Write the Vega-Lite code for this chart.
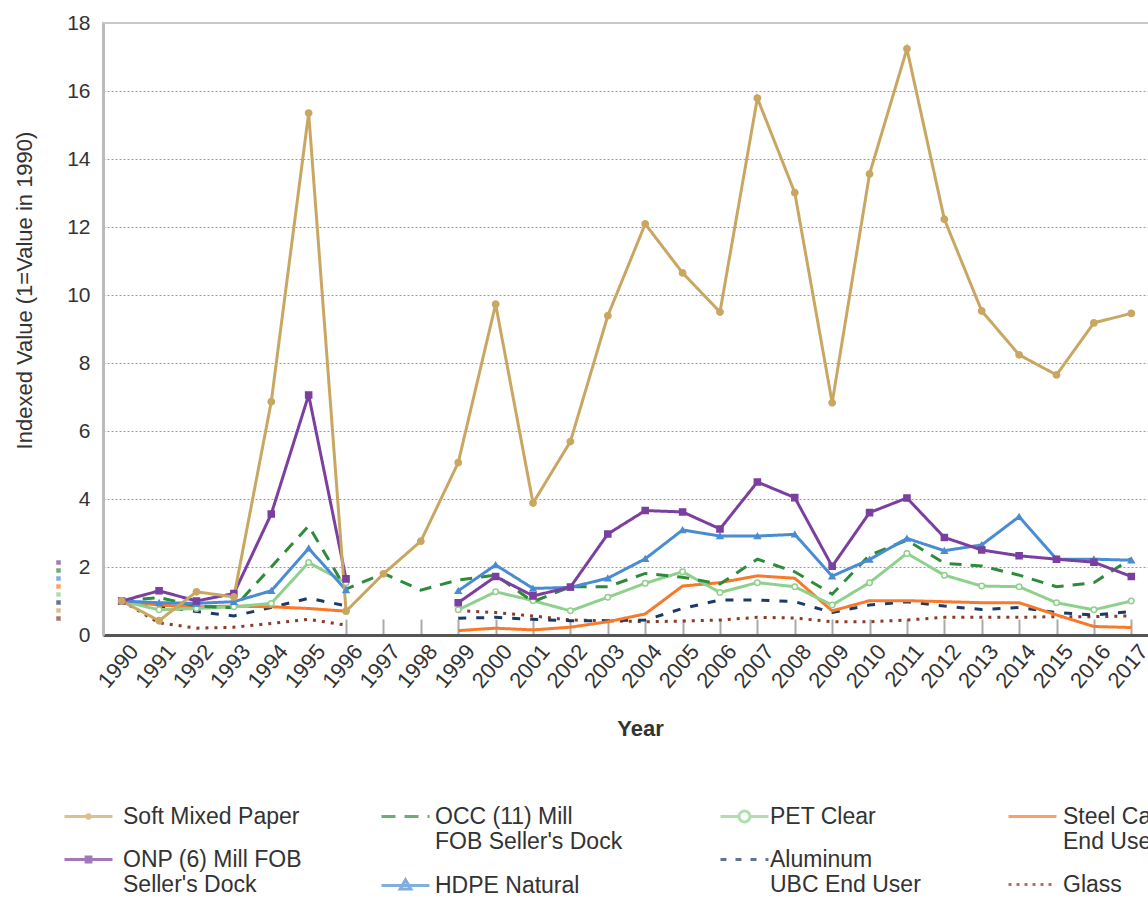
{
  "$schema": "https://vega.github.io/schema/vega-lite/v6.json",
  "width": 1047,
  "height": 612,
  "autosize": {"type": "none"},
  "padding": {"left": 103, "top": 23, "right": 0, "bottom": 265},
  "background": "white",
  "config": {
    "view": {"stroke": "#c8c8c8", "strokeWidth": 2},
    "font": "Liberation Sans"
  },
  "datasets": {
    "prices": [
      {"series": "Glass", "year": 1990, "value": 1}, {"series": "Glass", "year": 1991, "value": 0.36}, {"series": "Glass", "year": 1992, "value": 0.2}, {"series": "Glass", "year": 1993, "value": 0.23}, {"series": "Glass", "year": 1994, "value": 0.34}, {"series": "Glass", "year": 1995, "value": 0.46}, {"series": "Glass", "year": 1996, "value": 0.29}, {"series": "Glass", "year": 1997, "value": null}, {"series": "Glass", "year": 1998, "value": null}, {"series": "Glass", "year": 1999, "value": 0.72}, {"series": "Glass", "year": 2000, "value": 0.66}, {"series": "Glass", "year": 2001, "value": 0.56}, {"series": "Glass", "year": 2002, "value": 0.44}, {"series": "Glass", "year": 2003, "value": 0.42}, {"series": "Glass", "year": 2004, "value": 0.39}, {"series": "Glass", "year": 2005, "value": 0.41}, {"series": "Glass", "year": 2006, "value": 0.44}, {"series": "Glass", "year": 2007, "value": 0.52}, {"series": "Glass", "year": 2008, "value": 0.5}, {"series": "Glass", "year": 2009, "value": 0.39}, {"series": "Glass", "year": 2010, "value": 0.39}, {"series": "Glass", "year": 2011, "value": 0.44}, {"series": "Glass", "year": 2012, "value": 0.52}, {"series": "Glass", "year": 2013, "value": 0.52}, {"series": "Glass", "year": 2014, "value": 0.52}, {"series": "Glass", "year": 2015, "value": 0.54}, {"series": "Glass", "year": 2016, "value": 0.54}, {"series": "Glass", "year": 2017, "value": 0.56},
      {"series": "Aluminum UBC End User", "year": 1990, "value": 1}, {"series": "Aluminum UBC End User", "year": 1991, "value": 0.85}, {"series": "Aluminum UBC End User", "year": 1992, "value": 0.69}, {"series": "Aluminum UBC End User", "year": 1993, "value": 0.56}, {"series": "Aluminum UBC End User", "year": 1994, "value": 0.81}, {"series": "Aluminum UBC End User", "year": 1995, "value": 1.08}, {"series": "Aluminum UBC End User", "year": 1996, "value": 0.86}, {"series": "Aluminum UBC End User", "year": 1997, "value": null}, {"series": "Aluminum UBC End User", "year": 1998, "value": null}, {"series": "Aluminum UBC End User", "year": 1999, "value": 0.49}, {"series": "Aluminum UBC End User", "year": 2000, "value": 0.52}, {"series": "Aluminum UBC End User", "year": 2001, "value": 0.46}, {"series": "Aluminum UBC End User", "year": 2002, "value": 0.42}, {"series": "Aluminum UBC End User", "year": 2003, "value": 0.42}, {"series": "Aluminum UBC End User", "year": 2004, "value": 0.44}, {"series": "Aluminum UBC End User", "year": 2005, "value": 0.78}, {"series": "Aluminum UBC End User", "year": 2006, "value": 1.03}, {"series": "Aluminum UBC End User", "year": 2007, "value": 1.03}, {"series": "Aluminum UBC End User", "year": 2008, "value": 0.98}, {"series": "Aluminum UBC End User", "year": 2009, "value": 0.66}, {"series": "Aluminum UBC End User", "year": 2010, "value": 0.88}, {"series": "Aluminum UBC End User", "year": 2011, "value": 0.98}, {"series": "Aluminum UBC End User", "year": 2012, "value": 0.85}, {"series": "Aluminum UBC End User", "year": 2013, "value": 0.75}, {"series": "Aluminum UBC End User", "year": 2014, "value": 0.81}, {"series": "Aluminum UBC End User", "year": 2015, "value": 0.66}, {"series": "Aluminum UBC End User", "year": 2016, "value": 0.59}, {"series": "Aluminum UBC End User", "year": 2017, "value": 0.69},
      {"series": "Steel Can End User", "year": 1990, "value": 1}, {"series": "Steel Can End User", "year": 1991, "value": 0.88}, {"series": "Steel Can End User", "year": 1992, "value": 0.83}, {"series": "Steel Can End User", "year": 1993, "value": 0.85}, {"series": "Steel Can End User", "year": 1994, "value": 0.83}, {"series": "Steel Can End User", "year": 1995, "value": 0.78}, {"series": "Steel Can End User", "year": 1996, "value": 0.7}, {"series": "Steel Can End User", "year": 1997, "value": null}, {"series": "Steel Can End User", "year": 1998, "value": null}, {"series": "Steel Can End User", "year": 1999, "value": 0.13}, {"series": "Steel Can End User", "year": 2000, "value": 0.2}, {"series": "Steel Can End User", "year": 2001, "value": 0.15}, {"series": "Steel Can End User", "year": 2002, "value": 0.23}, {"series": "Steel Can End User", "year": 2003, "value": 0.39}, {"series": "Steel Can End User", "year": 2004, "value": 0.62}, {"series": "Steel Can End User", "year": 2005, "value": 1.44}, {"series": "Steel Can End User", "year": 2006, "value": 1.54}, {"series": "Steel Can End User", "year": 2007, "value": 1.74}, {"series": "Steel Can End User", "year": 2008, "value": 1.67}, {"series": "Steel Can End User", "year": 2009, "value": 0.71}, {"series": "Steel Can End User", "year": 2010, "value": 1.01}, {"series": "Steel Can End User", "year": 2011, "value": 1.01}, {"series": "Steel Can End User", "year": 2012, "value": 0.98}, {"series": "Steel Can End User", "year": 2013, "value": 0.95}, {"series": "Steel Can End User", "year": 2014, "value": 0.95}, {"series": "Steel Can End User", "year": 2015, "value": 0.59}, {"series": "Steel Can End User", "year": 2016, "value": 0.25}, {"series": "Steel Can End User", "year": 2017, "value": 0.22},
      {"series": "PET Clear", "year": 1990, "value": 1}, {"series": "PET Clear", "year": 1991, "value": 0.74}, {"series": "PET Clear", "year": 1992, "value": 0.78}, {"series": "PET Clear", "year": 1993, "value": 0.83}, {"series": "PET Clear", "year": 1994, "value": 0.93}, {"series": "PET Clear", "year": 1995, "value": 2.13}, {"series": "PET Clear", "year": 1996, "value": 1.54}, {"series": "PET Clear", "year": 1997, "value": null}, {"series": "PET Clear", "year": 1998, "value": null}, {"series": "PET Clear", "year": 1999, "value": 0.74}, {"series": "PET Clear", "year": 2000, "value": 1.27}, {"series": "PET Clear", "year": 2001, "value": 1.01}, {"series": "PET Clear", "year": 2002, "value": 0.71}, {"series": "PET Clear", "year": 2003, "value": 1.11}, {"series": "PET Clear", "year": 2004, "value": 1.52}, {"series": "PET Clear", "year": 2005, "value": 1.86}, {"series": "PET Clear", "year": 2006, "value": 1.25}, {"series": "PET Clear", "year": 2007, "value": 1.54}, {"series": "PET Clear", "year": 2008, "value": 1.42}, {"series": "PET Clear", "year": 2009, "value": 0.88}, {"series": "PET Clear", "year": 2010, "value": 1.54}, {"series": "PET Clear", "year": 2011, "value": 2.4}, {"series": "PET Clear", "year": 2012, "value": 1.76}, {"series": "PET Clear", "year": 2013, "value": 1.44}, {"series": "PET Clear", "year": 2014, "value": 1.42}, {"series": "PET Clear", "year": 2015, "value": 0.95}, {"series": "PET Clear", "year": 2016, "value": 0.74}, {"series": "PET Clear", "year": 2017, "value": 1.0},
      {"series": "OCC (11) Mill FOB Seller's Dock", "year": 1990, "value": 1}, {"series": "OCC (11) Mill FOB Seller's Dock", "year": 1991, "value": 1.1}, {"series": "OCC (11) Mill FOB Seller's Dock", "year": 1992, "value": 0.85}, {"series": "OCC (11) Mill FOB Seller's Dock", "year": 1993, "value": 0.8}, {"series": "OCC (11) Mill FOB Seller's Dock", "year": 1994, "value": 2.0}, {"series": "OCC (11) Mill FOB Seller's Dock", "year": 1995, "value": 3.21}, {"series": "OCC (11) Mill FOB Seller's Dock", "year": 1996, "value": 1.35}, {"series": "OCC (11) Mill FOB Seller's Dock", "year": 1997, "value": 1.81}, {"series": "OCC (11) Mill FOB Seller's Dock", "year": 1998, "value": 1.32}, {"series": "OCC (11) Mill FOB Seller's Dock", "year": 1999, "value": 1.62}, {"series": "OCC (11) Mill FOB Seller's Dock", "year": 2000, "value": 1.76}, {"series": "OCC (11) Mill FOB Seller's Dock", "year": 2001, "value": 0.98}, {"series": "OCC (11) Mill FOB Seller's Dock", "year": 2002, "value": 1.42}, {"series": "OCC (11) Mill FOB Seller's Dock", "year": 2003, "value": 1.42}, {"series": "OCC (11) Mill FOB Seller's Dock", "year": 2004, "value": 1.81}, {"series": "OCC (11) Mill FOB Seller's Dock", "year": 2005, "value": 1.7}, {"series": "OCC (11) Mill FOB Seller's Dock", "year": 2006, "value": 1.5}, {"series": "OCC (11) Mill FOB Seller's Dock", "year": 2007, "value": 2.23}, {"series": "OCC (11) Mill FOB Seller's Dock", "year": 2008, "value": 1.86}, {"series": "OCC (11) Mill FOB Seller's Dock", "year": 2009, "value": 1.2}, {"series": "OCC (11) Mill FOB Seller's Dock", "year": 2010, "value": 2.35}, {"series": "OCC (11) Mill FOB Seller's Dock", "year": 2011, "value": 2.79}, {"series": "OCC (11) Mill FOB Seller's Dock", "year": 2012, "value": 2.11}, {"series": "OCC (11) Mill FOB Seller's Dock", "year": 2013, "value": 2.03}, {"series": "OCC (11) Mill FOB Seller's Dock", "year": 2014, "value": 1.76}, {"series": "OCC (11) Mill FOB Seller's Dock", "year": 2015, "value": 1.42}, {"series": "OCC (11) Mill FOB Seller's Dock", "year": 2016, "value": 1.54}, {"series": "OCC (11) Mill FOB Seller's Dock", "year": 2017, "value": 2.25},
      {"series": "HDPE Natural", "year": 1990, "value": 1}, {"series": "HDPE Natural", "year": 1991, "value": 0.95}, {"series": "HDPE Natural", "year": 1992, "value": 0.93}, {"series": "HDPE Natural", "year": 1993, "value": 0.98}, {"series": "HDPE Natural", "year": 1994, "value": 1.3}, {"series": "HDPE Natural", "year": 1995, "value": 2.55}, {"series": "HDPE Natural", "year": 1996, "value": 1.32}, {"series": "HDPE Natural", "year": 1997, "value": null}, {"series": "HDPE Natural", "year": 1998, "value": null}, {"series": "HDPE Natural", "year": 1999, "value": 1.3}, {"series": "HDPE Natural", "year": 2000, "value": 2.06}, {"series": "HDPE Natural", "year": 2001, "value": 1.37}, {"series": "HDPE Natural", "year": 2002, "value": 1.4}, {"series": "HDPE Natural", "year": 2003, "value": 1.67}, {"series": "HDPE Natural", "year": 2004, "value": 2.24}, {"series": "HDPE Natural", "year": 2005, "value": 3.09}, {"series": "HDPE Natural", "year": 2006, "value": 2.91}, {"series": "HDPE Natural", "year": 2007, "value": 2.91}, {"series": "HDPE Natural", "year": 2008, "value": 2.96}, {"series": "HDPE Natural", "year": 2009, "value": 1.73}, {"series": "HDPE Natural", "year": 2010, "value": 2.22}, {"series": "HDPE Natural", "year": 2011, "value": 2.84}, {"series": "HDPE Natural", "year": 2012, "value": 2.48}, {"series": "HDPE Natural", "year": 2013, "value": 2.65}, {"series": "HDPE Natural", "year": 2014, "value": 3.48}, {"series": "HDPE Natural", "year": 2015, "value": 2.23}, {"series": "HDPE Natural", "year": 2016, "value": 2.23}, {"series": "HDPE Natural", "year": 2017, "value": 2.2},
      {"series": "ONP (6) Mill FOB Seller's Dock", "year": 1990, "value": 1}, {"series": "ONP (6) Mill FOB Seller's Dock", "year": 1991, "value": 1.3}, {"series": "ONP (6) Mill FOB Seller's Dock", "year": 1992, "value": 1.0}, {"series": "ONP (6) Mill FOB Seller's Dock", "year": 1993, "value": 1.22}, {"series": "ONP (6) Mill FOB Seller's Dock", "year": 1994, "value": 3.56}, {"series": "ONP (6) Mill FOB Seller's Dock", "year": 1995, "value": 7.06}, {"series": "ONP (6) Mill FOB Seller's Dock", "year": 1996, "value": 1.65}, {"series": "ONP (6) Mill FOB Seller's Dock", "year": 1997, "value": null}, {"series": "ONP (6) Mill FOB Seller's Dock", "year": 1998, "value": null}, {"series": "ONP (6) Mill FOB Seller's Dock", "year": 1999, "value": 0.95}, {"series": "ONP (6) Mill FOB Seller's Dock", "year": 2000, "value": 1.72}, {"series": "ONP (6) Mill FOB Seller's Dock", "year": 2001, "value": 1.15}, {"series": "ONP (6) Mill FOB Seller's Dock", "year": 2002, "value": 1.41}, {"series": "ONP (6) Mill FOB Seller's Dock", "year": 2003, "value": 2.97}, {"series": "ONP (6) Mill FOB Seller's Dock", "year": 2004, "value": 3.66}, {"series": "ONP (6) Mill FOB Seller's Dock", "year": 2005, "value": 3.62}, {"series": "ONP (6) Mill FOB Seller's Dock", "year": 2006, "value": 3.12}, {"series": "ONP (6) Mill FOB Seller's Dock", "year": 2007, "value": 4.5}, {"series": "ONP (6) Mill FOB Seller's Dock", "year": 2008, "value": 4.04}, {"series": "ONP (6) Mill FOB Seller's Dock", "year": 2009, "value": 2.02}, {"series": "ONP (6) Mill FOB Seller's Dock", "year": 2010, "value": 3.6}, {"series": "ONP (6) Mill FOB Seller's Dock", "year": 2011, "value": 4.03}, {"series": "ONP (6) Mill FOB Seller's Dock", "year": 2012, "value": 2.87}, {"series": "ONP (6) Mill FOB Seller's Dock", "year": 2013, "value": 2.5}, {"series": "ONP (6) Mill FOB Seller's Dock", "year": 2014, "value": 2.33}, {"series": "ONP (6) Mill FOB Seller's Dock", "year": 2015, "value": 2.23}, {"series": "ONP (6) Mill FOB Seller's Dock", "year": 2016, "value": 2.14}, {"series": "ONP (6) Mill FOB Seller's Dock", "year": 2017, "value": 1.72},
      {"series": "Soft Mixed Paper", "year": 1990, "value": 1}, {"series": "Soft Mixed Paper", "year": 1991, "value": 0.42}, {"series": "Soft Mixed Paper", "year": 1992, "value": 1.27}, {"series": "Soft Mixed Paper", "year": 1993, "value": 1.12}, {"series": "Soft Mixed Paper", "year": 1994, "value": 6.86}, {"series": "Soft Mixed Paper", "year": 1995, "value": 15.35}, {"series": "Soft Mixed Paper", "year": 1996, "value": 0.7}, {"series": "Soft Mixed Paper", "year": 1997, "value": 1.8}, {"series": "Soft Mixed Paper", "year": 1998, "value": 2.76}, {"series": "Soft Mixed Paper", "year": 1999, "value": 5.07}, {"series": "Soft Mixed Paper", "year": 2000, "value": 9.73}, {"series": "Soft Mixed Paper", "year": 2001, "value": 3.88}, {"series": "Soft Mixed Paper", "year": 2002, "value": 5.69}, {"series": "Soft Mixed Paper", "year": 2003, "value": 9.39}, {"series": "Soft Mixed Paper", "year": 2004, "value": 12.09}, {"series": "Soft Mixed Paper", "year": 2005, "value": 10.65}, {"series": "Soft Mixed Paper", "year": 2006, "value": 9.5}, {"series": "Soft Mixed Paper", "year": 2007, "value": 15.79}, {"series": "Soft Mixed Paper", "year": 2008, "value": 13.01}, {"series": "Soft Mixed Paper", "year": 2009, "value": 6.83}, {"series": "Soft Mixed Paper", "year": 2010, "value": 13.56}, {"series": "Soft Mixed Paper", "year": 2011, "value": 17.24}, {"series": "Soft Mixed Paper", "year": 2012, "value": 12.23}, {"series": "Soft Mixed Paper", "year": 2013, "value": 9.53}, {"series": "Soft Mixed Paper", "year": 2014, "value": 8.24}, {"series": "Soft Mixed Paper", "year": 2015, "value": 7.65}, {"series": "Soft Mixed Paper", "year": 2016, "value": 9.18}, {"series": "Soft Mixed Paper", "year": 2017, "value": 9.46}
    ]
  },
  "data": {"name": "prices"},
  "resolve": {"scale": {"stroke": "independent", "strokeDash": "independent", "shape": "independent", "fill": "independent", "size": "independent", "color": "independent"}},
  "layer": [
    {
      "mark": {"type": "line", "strokeWidth": 3, "invalid": "break-paths-filter-domains"},
      "encoding": {
        "x": {
          "field": "year", "type": "ordinal",
          "scale": {"type": "point", "padding": 0.5},
          "axis": {
            "title": "Year", "labelAngle": -50, "labelFontSize": 22, "labelColor": "#333",
            "labelPadding": 12, "labelOffset": 12, "ticks": false,
            "grid": true, "gridColor": "#aaa", "gridWidth": 2, "gridDash": [16, 596], "gridDashOffset": 16,
            "gridOpacity": {"condition": {"test": "datum.value < 1996", "value": 0}, "value": 1},
            "domainColor": "#555", "domainWidth": 3, "titleFontSize": 22, "titleFontWeight": "bold",
            "titleColor": "#333", "titlePadding": 27, "titleX": 537
          }
        },
        "y": {
          "field": "value", "type": "quantitative",
          "scale": {"domain": [0, 18], "nice": false},
          "axis": {
            "values": [0, 2, 4, 6, 8, 10, 12, 14, 16, 18],
            "title": "Indexed Value (1=Value in 1990)", "grid": true, "gridDash": [2, 2], "gridColor": "#999", "gridWidth": 1,
            "gridOpacity": {"condition": {"test": "datum.value == 0 || datum.value == 18", "value": 0}, "value": 1},
            "tickSize": 0, "labelPadding": 13, "labelFontSize": 21, "labelColor": "#333",
            "domainColor": "#bbb", "domainWidth": 3, "titleFontSize": 22, "titleColor": "#333",
            "titleFontWeight": "normal", "titlePadding": 30, "titleY": 267
          }
        },
        "stroke": {
          "field": "series", "type": "nominal", "legend": null,
          "scale": {
            "domain": ["Glass", "Aluminum UBC End User", "Steel Can End User", "PET Clear", "OCC (11) Mill FOB Seller's Dock", "HDPE Natural", "ONP (6) Mill FOB Seller's Dock", "Soft Mixed Paper"],
            "range": ["#8B3A28", "#1C3A66", "#F8792A", "#8FD18C", "#2E8B3C", "#4A8CD2", "#7B3F9F", "#C9A762"]
          }
        },
        "strokeDash": {
          "field": "series", "type": "nominal", "legend": null,
          "scale": {
            "domain": ["Glass", "Aluminum UBC End User", "Steel Can End User", "PET Clear", "OCC (11) Mill FOB Seller's Dock", "HDPE Natural", "ONP (6) Mill FOB Seller's Dock", "Soft Mixed Paper"],
            "range": [[3, 6], [8, 10], [1, 0], [1, 0], [12, 9], [1, 0], [1, 0], [1, 0]]
          }
        }
      }
    },
    {
      "transform": [{"filter": {"field": "series", "oneOf": ["PET Clear", "HDPE Natural", "ONP (6) Mill FOB Seller's Dock", "Soft Mixed Paper"]}}],
      "mark": {"type": "point", "filled": true, "opacity": 1, "strokeWidth": 1.5},
      "encoding": {
        "x": {"field": "year", "type": "ordinal"},
        "y": {"field": "value", "type": "quantitative"},
        "shape": {"field": "series", "type": "nominal", "legend": null,
          "scale": {"domain": ["PET Clear", "HDPE Natural", "ONP (6) Mill FOB Seller's Dock", "Soft Mixed Paper"], "range": ["circle", "triangle-up", "square", "circle"]}},
        "fill": {"field": "series", "type": "nominal", "legend": null,
          "scale": {"domain": ["PET Clear", "HDPE Natural", "ONP (6) Mill FOB Seller's Dock", "Soft Mixed Paper"], "range": ["#ffffff", "#4A8CD2", "#7B3F9F", "#C9A762"]}},
        "stroke": {"field": "series", "type": "nominal", "legend": null,
          "scale": {"domain": ["PET Clear", "HDPE Natural", "ONP (6) Mill FOB Seller's Dock", "Soft Mixed Paper"], "range": ["#8FD18C", "#4A8CD2", "#7B3F9F", "#C9A762"]}},
        "size": {"field": "series", "type": "nominal", "legend": null,
          "scale": {"domain": ["PET Clear", "HDPE Natural", "ONP (6) Mill FOB Seller's Dock", "Soft Mixed Paper"], "range": [30, 40, 30, 20]}}
      }
    },
    {
      "transform": [{"filter": "datum.value < -100"}],
      "mark": {"type": "point", "filled": false},
      "encoding": {
        "stroke": {"field": "series", "type": "nominal",
          "scale": {"domain": ["Soft Mixed Paper", "ONP (6) Mill FOB Seller's Dock"], "range": ["#C9A762", "#7B3F9F"]},
          "legend": {"title": null, "orient": "none", "legendX": -8, "legendY": 782, "direction": "vertical", "padding": 0, "symbolSize": 144, "symbolStrokeWidth": 3, "labelFontSize": 23, "labelColor": "#333", "labelOffset": 5, "rowPadding": 19, "labelLimit": 500, "labelBaseline": "middle",
            "labelExpr": "datum.label == \"ONP (6) Mill FOB Seller's Dock\" ? [\"ONP (6) Mill FOB\", \"Seller's Dock\"] : datum.label",
            "encode": {"labels": {"update": {"lineHeight": {"value": 27.5}}}}}},
        "shape": {"field": "series", "type": "nominal",
          "scale": {"domain": ["Soft Mixed Paper", "ONP (6) Mill FOB Seller's Dock"], "range": ["M-7,0L1,0M-2.7,0A0.3,0.3,0,1,1,-3.3,0A0.3,0.3,0,1,1,-2.7,0Z", "M-7,0L1,0M-3.4,-0.4L-2.6,-0.4L-2.6,0.4L-3.4,0.4Z"]},
          "legend": {"title": null, "orient": "none", "legendX": -8, "legendY": 782, "direction": "vertical", "padding": 0, "symbolSize": 144, "symbolStrokeWidth": 3, "labelFontSize": 23, "labelColor": "#333", "labelOffset": 5, "rowPadding": 19, "labelLimit": 500, "labelBaseline": "middle",
            "labelExpr": "datum.label == \"ONP (6) Mill FOB Seller's Dock\" ? [\"ONP (6) Mill FOB\", \"Seller's Dock\"] : datum.label",
            "encode": {"labels": {"update": {"lineHeight": {"value": 27.5}}}}}}
      }
    },
    {
      "transform": [{"filter": "datum.value < -100"}],
      "mark": {"type": "point", "filled": false},
      "encoding": {
        "stroke": {"field": "series", "type": "nominal",
          "scale": {"domain": ["OCC (11) Mill FOB Seller's Dock", "HDPE Natural"], "range": ["#2E8B3C", "#4A8CD2"]},
          "legend": {"title": null, "orient": "none", "legendX": 309, "legendY": 782, "direction": "vertical", "padding": 0, "symbolSize": 144, "symbolStrokeWidth": 3, "labelFontSize": 23, "labelColor": "#333", "labelOffset": 0, "rowPadding": 19, "labelLimit": 500, "labelBaseline": "middle",
            "labelExpr": "datum.label == \"OCC (11) Mill FOB Seller's Dock\" ? [\"OCC (11) Mill\", \"FOB Seller's Dock\"] : datum.label",
            "encode": {"labels": {"update": {"lineHeight": {"value": 27.5}}}}}},
        "shape": {"field": "series", "type": "nominal",
          "scale": {"domain": ["OCC (11) Mill FOB Seller's Dock", "HDPE Natural"], "range": ["M-7,0L1,0", "M-7,0L1,0M-3,-0.95L-2.1,0.6L-3.9,0.6Z"]},
          "legend": {"title": null, "orient": "none", "legendX": 309, "legendY": 782, "direction": "vertical", "padding": 0, "symbolSize": 144, "symbolStrokeWidth": 3, "labelFontSize": 23, "labelColor": "#333", "labelOffset": 0, "rowPadding": 19, "labelLimit": 500, "labelBaseline": "middle",
            "labelExpr": "datum.label == \"OCC (11) Mill FOB Seller's Dock\" ? [\"OCC (11) Mill\", \"FOB Seller's Dock\"] : datum.label",
            "encode": {"labels": {"update": {"lineHeight": {"value": 27.5}}}}}},
        "strokeDash": {"field": "series", "type": "nominal",
          "scale": {"domain": ["OCC (11) Mill FOB Seller's Dock", "HDPE Natural"], "range": [[14, 9], [1, 0]]},
          "legend": {"title": null, "orient": "none", "legendX": 309, "legendY": 782, "direction": "vertical", "padding": 0, "symbolSize": 144, "symbolStrokeWidth": 3, "labelFontSize": 23, "labelColor": "#333", "labelOffset": 0, "rowPadding": 19, "labelLimit": 500, "labelBaseline": "middle",
            "labelExpr": "datum.label == \"OCC (11) Mill FOB Seller's Dock\" ? [\"OCC (11) Mill\", \"FOB Seller's Dock\"] : datum.label",
            "encode": {"labels": {"update": {"lineHeight": {"value": 27.5}}}}}}
      }
    },
    {
      "transform": [{"filter": "datum.value < -100"}],
      "mark": {"type": "point", "filled": false},
      "encoding": {
        "stroke": {"field": "series", "type": "nominal",
          "scale": {"domain": ["PET Clear", "Aluminum UBC End User"], "range": ["#8FD18C", "#1C3A66"]},
          "legend": {"title": null, "orient": "none", "legendX": 648, "legendY": 782, "direction": "vertical", "padding": 0, "symbolSize": 144, "symbolStrokeWidth": 3, "labelFontSize": 23, "labelColor": "#333", "labelOffset": -4, "rowPadding": 19, "labelLimit": 500, "labelBaseline": "middle",
            "labelExpr": "datum.label == \"Aluminum UBC End User\" ? [\"Aluminum\", \"UBC End User\"] : datum.label",
            "encode": {"labels": {"update": {"lineHeight": {"value": 27.5}}}}}},
        "shape": {"field": "series", "type": "nominal",
          "scale": {"domain": ["PET Clear", "Aluminum UBC End User"], "range": ["M-7,0L-3.9,0M-2.1,0L1,0M-2.1,0A0.9,0.9,0,1,1,-3.9,0A0.9,0.9,0,1,1,-2.1,0Z", "M-7,0L1,0"]},
          "legend": {"title": null, "orient": "none", "legendX": 648, "legendY": 782, "direction": "vertical", "padding": 0, "symbolSize": 144, "symbolStrokeWidth": 3, "labelFontSize": 23, "labelColor": "#333", "labelOffset": -4, "rowPadding": 19, "labelLimit": 500, "labelBaseline": "middle",
            "labelExpr": "datum.label == \"Aluminum UBC End User\" ? [\"Aluminum\", \"UBC End User\"] : datum.label",
            "encode": {"labels": {"update": {"lineHeight": {"value": 27.5}}}}}},
        "strokeDash": {"field": "series", "type": "nominal",
          "scale": {"domain": ["PET Clear", "Aluminum UBC End User"], "range": [[1, 0], [6, 9]]},
          "legend": {"title": null, "orient": "none", "legendX": 648, "legendY": 782, "direction": "vertical", "padding": 0, "symbolSize": 144, "symbolStrokeWidth": 3, "labelFontSize": 23, "labelColor": "#333", "labelOffset": -4, "rowPadding": 19, "labelLimit": 500, "labelBaseline": "middle",
            "labelExpr": "datum.label == \"Aluminum UBC End User\" ? [\"Aluminum\", \"UBC End User\"] : datum.label",
            "encode": {"labels": {"update": {"lineHeight": {"value": 27.5}}}}}}
      }
    },
    {
      "transform": [{"filter": "datum.value < -100"}],
      "mark": {"type": "point", "filled": false},
      "encoding": {
        "stroke": {"field": "series", "type": "nominal",
          "scale": {"domain": ["Steel Can End User", "Glass"], "range": ["#F8792A", "#8B3A28"]},
          "legend": {"title": null, "orient": "none", "legendX": 936, "legendY": 782, "direction": "vertical", "padding": 0, "symbolSize": 144, "symbolStrokeWidth": 3, "labelFontSize": 23, "labelColor": "#333", "labelOffset": 1, "rowPadding": 19, "labelLimit": 500, "labelBaseline": "middle",
            "labelExpr": "datum.label == \"Steel Can End User\" ? [\"Steel Can\", \"End User\"] : datum.label",
            "encode": {"labels": {"update": {"lineHeight": {"value": 27.5}}}}}},
        "shape": {"field": "series", "type": "nominal",
          "scale": {"domain": ["Steel Can End User", "Glass"], "range": ["M-7,0L1,0", "M-7,0L1,0"]},
          "legend": {"title": null, "orient": "none", "legendX": 936, "legendY": 782, "direction": "vertical", "padding": 0, "symbolSize": 144, "symbolStrokeWidth": 3, "labelFontSize": 23, "labelColor": "#333", "labelOffset": 1, "rowPadding": 19, "labelLimit": 500, "labelBaseline": "middle",
            "labelExpr": "datum.label == \"Steel Can End User\" ? [\"Steel Can\", \"End User\"] : datum.label",
            "encode": {"labels": {"update": {"lineHeight": {"value": 27.5}}}}}},
        "strokeDash": {"field": "series", "type": "nominal",
          "scale": {"domain": ["Steel Can End User", "Glass"], "range": [[1, 0], [3, 5]]},
          "legend": {"title": null, "orient": "none", "legendX": 936, "legendY": 782, "direction": "vertical", "padding": 0, "symbolSize": 144, "symbolStrokeWidth": 3, "labelFontSize": 23, "labelColor": "#333", "labelOffset": 1, "rowPadding": 19, "labelLimit": 500, "labelBaseline": "middle",
            "labelExpr": "datum.label == \"Steel Can End User\" ? [\"Steel Can\", \"End User\"] : datum.label",
            "encode": {"labels": {"update": {"lineHeight": {"value": 27.5}}}}}}
      }
    },
    {
      "transform": [{"filter": "datum.value < -100"}],
      "mark": {"type": "square"},
      "encoding": {
        "fill": {"field": "series", "type": "nominal",
          "scale": {"domain": ["ONP (6) Mill FOB Seller's Dock", "OCC (11) Mill FOB Seller's Dock", "HDPE Natural", "Steel Can End User", "PET Clear", "Aluminum UBC End User", "Soft Mixed Paper", "Glass"],
            "range": ["#7B3F9F", "#2E8B3C", "#4A8CD2", "#F8792A", "#8FD18C", "#1C3A66", "#C9A762", "#8B3A28"]},
          "legend": {"title": null, "orient": "none", "legendX": -47, "legendY": 537, "direction": "vertical", "padding": 0, "symbolType": "square", "symbolSize": 20, "symbolStrokeWidth": 0, "labelExpr": "''", "labelFontSize": 1, "labelOffset": 0, "rowPadding": 3}}
      }
    }
  ]
}
